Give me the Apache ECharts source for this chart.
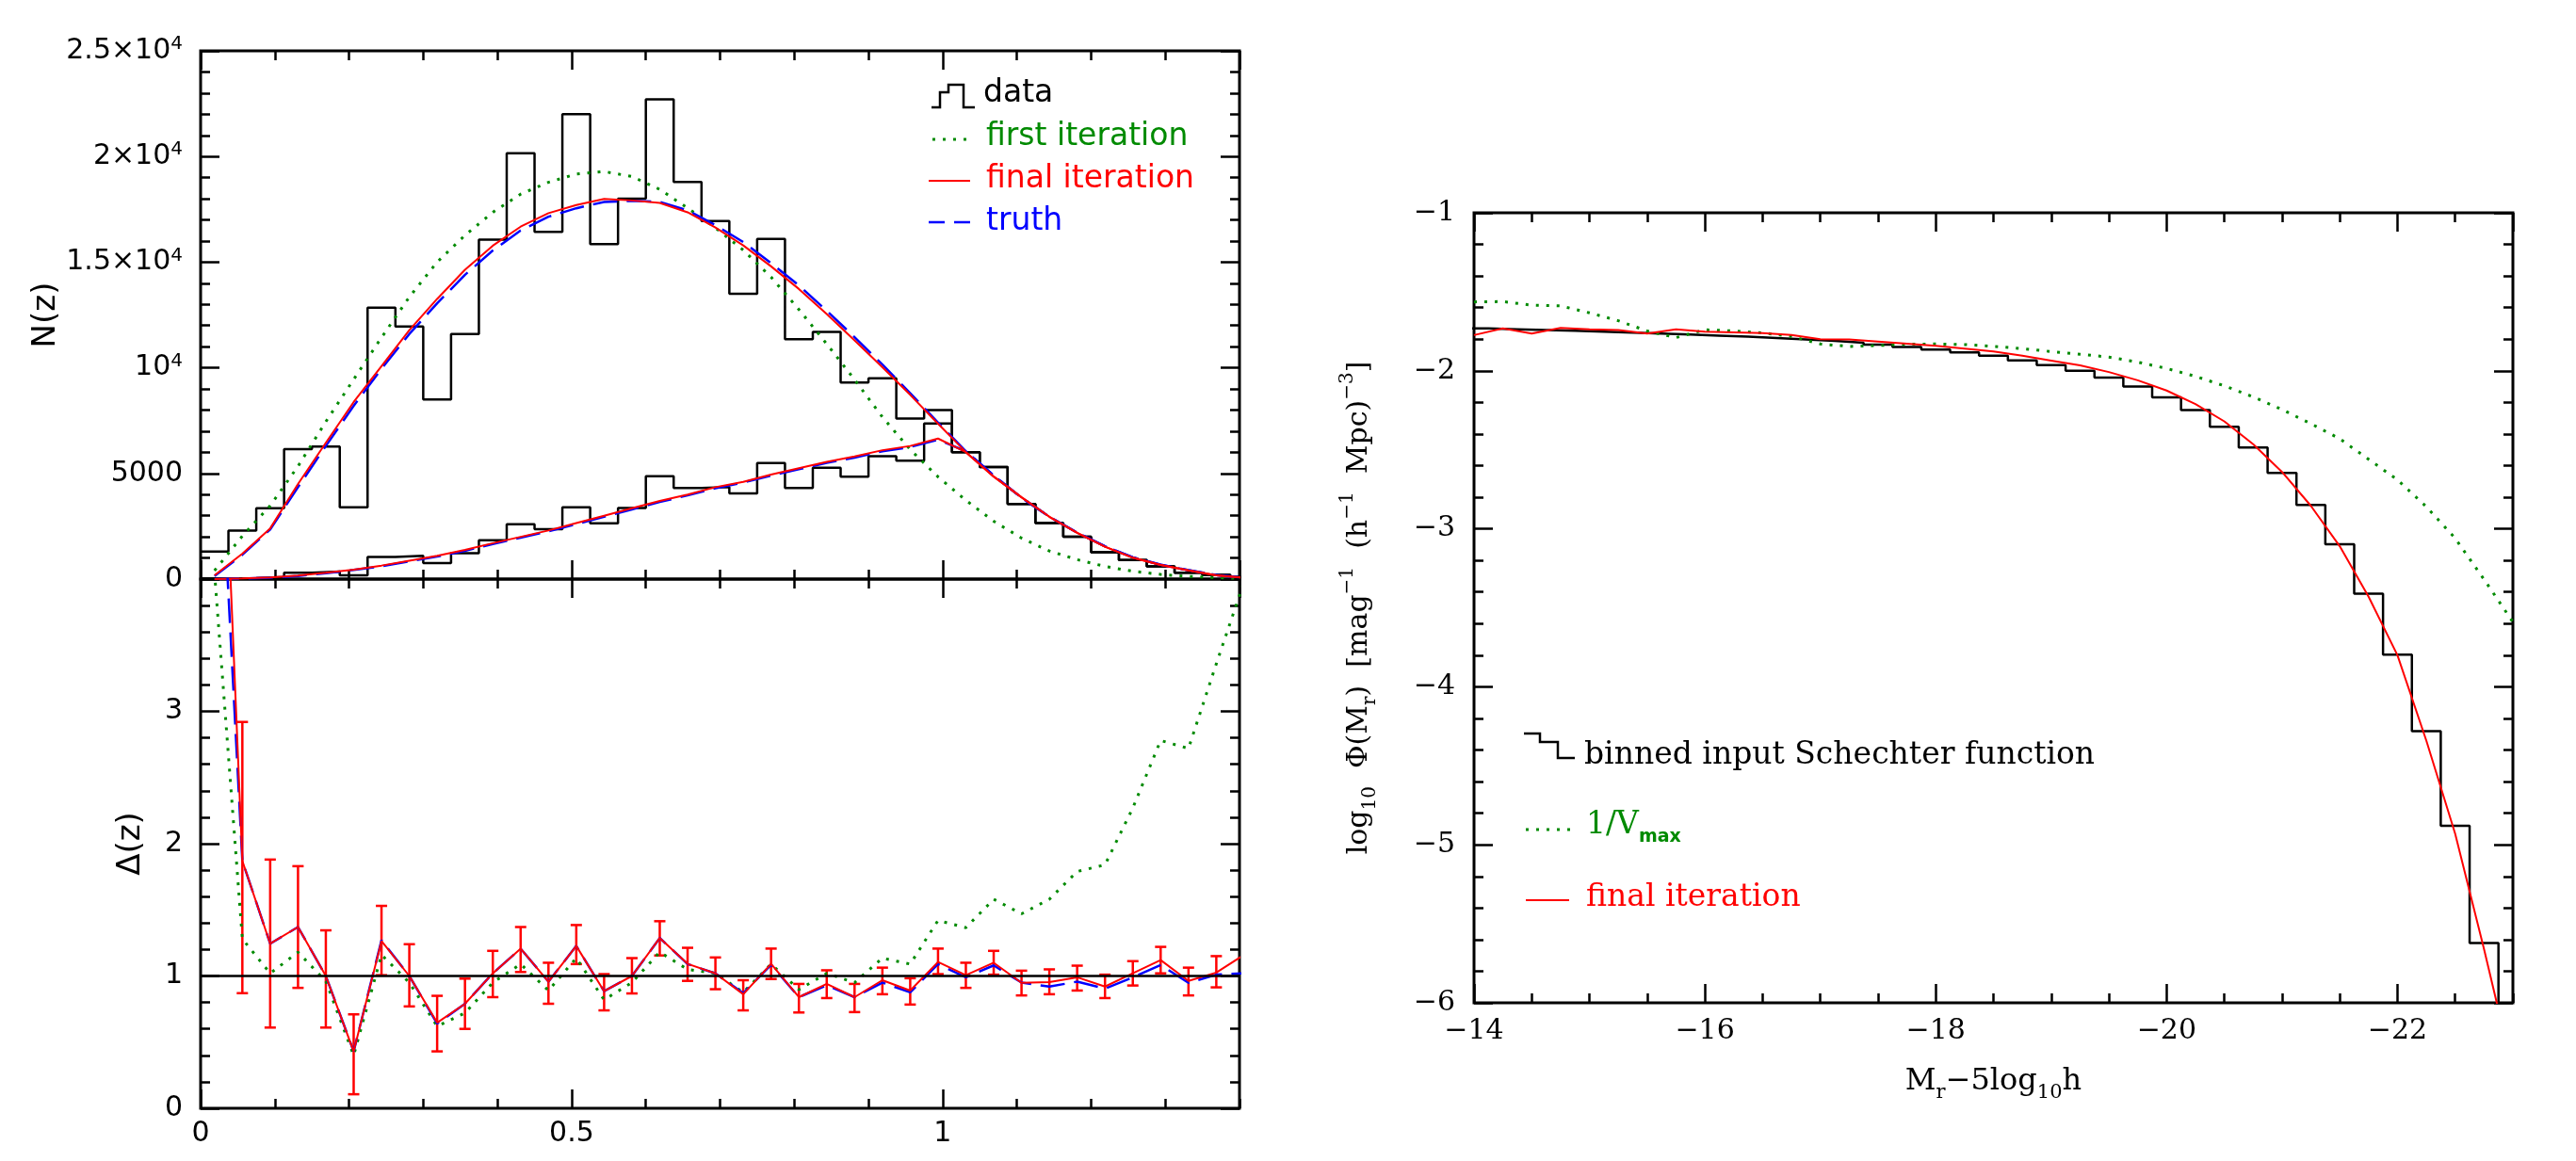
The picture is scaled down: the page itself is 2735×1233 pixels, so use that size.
<!DOCTYPE html>
<html><head><meta charset="utf-8">
<script src="https://cdn.jsdelivr.net/npm/echarts@6/dist/echarts.min.js"></script>
<style>html,body{margin:0;padding:0;background:#fff}#c{width:2735px;height:1233px}</style>
</head><body><div id="c"></div>
<script>
// ---------------- DATA: left panel (redshift) ----------------
const zBinEdges = [0, 0.0375, 0.075, 0.1125, 0.15, 0.1875, 0.225, 0.2625, 0.3, 0.3375, 0.375, 0.4125, 0.45, 0.4875, 0.525, 0.5625, 0.6, 0.6375, 0.675, 0.7125, 0.75, 0.7875, 0.825, 0.8625, 0.9, 0.9375, 0.975, 1.0125, 1.05, 1.0875, 1.125, 1.1625, 1.2, 1.2375, 1.275, 1.3125, 1.35, 1.3875, 1.425];
const zBinCenters = [0.01875, 0.05625, 0.09375, 0.13125, 0.16875, 0.20625, 0.24375, 0.28125, 0.31875, 0.35625, 0.39375, 0.43125, 0.46875, 0.50625, 0.54375, 0.58125, 0.61875, 0.65625, 0.69375, 0.73125, 0.76875, 0.80625, 0.84375, 0.88125, 0.91875, 0.95625, 0.99375, 1.03125, 1.06875, 1.10625, 1.14375, 1.18125, 1.21875, 1.25625, 1.29375, 1.33125, 1.36875, 1.40625];

const nzDataAll = [1300, 2300, 3350, 6150, 6270, 3400, 12850, 11950, 8500, 11600, 16070, 20150, 16430, 22000, 15850, 18000, 22700, 18800, 16950, 13500, 16100, 11350, 11700, 9300, 9500, 7600, 8000, 6000, 5300, 3550, 2650, 2000, 1270, 900, 600, 300, 200, 100];
const nzDataSub = [30, 50, 100, 300, 360, 180, 1050, 1100, 760, 1220, 1840, 2600, 2360, 3400, 2640, 3360, 4870, 4310, 4360, 4050, 5490, 4310, 5270, 4850, 5820, 5600, 7360, 6000, 5300, 3550, 2650, 2000, 1270, 900, 600, 300, 200, 100];

const nzFirstAll = [400, 2040, 3470, 5340, 7450, 9450, 11430, 13350, 15000, 16270, 17360, 18220, 18780, 19170, 19290, 19050, 18440, 17560, 16620, 15570, 14290, 12760, 11130, 9440, 7670, 6130, 4840, 3730, 2740, 1940, 1330, 920, 600, 370, 220, 130, 70, 30];
const nzFinalAll = [180, 1200, 2400, 4500, 6450, 8380, 10080, 11780, 13260, 14640, 15780, 16680, 17320, 17700, 17990, 17920, 17800, 17360, 16640, 15790, 14800, 13730, 12540, 11300, 10030, 8720, 7350, 6010, 4850, 3870, 2950, 2190, 1530, 1010, 670, 410, 180, 60];
const nzTruthAll = [150, 1150, 2350, 4350, 6300, 8200, 9950, 11600, 13050, 14400, 15550, 16500, 17150, 17550, 17850, 17900, 17850, 17450, 16750, 15950, 14950, 13900, 12700, 11450, 10150, 8800, 7400, 6050, 4900, 3850, 2950, 2200, 1550, 1030, 680, 420, 190, 60];
const nzFinalSub = [0, 30, 80, 170, 300, 450, 640, 870, 1100, 1380, 1700, 2000, 2300, 2650, 3000, 3350, 3700, 4000, 4350, 4600, 4950, 5250, 5550, 5800, 6100, 6300, 6650, 6010, 4850, 3870, 2950, 2190, 1530, 1010, 670, 410, 180, 60];
const nzTruthSub = [0, 20, 70, 150, 280, 430, 610, 840, 1070, 1340, 1660, 1960, 2260, 2600, 2950, 3300, 3650, 3960, 4300, 4570, 4900, 5200, 5500, 5750, 6050, 6250, 6600, 6050, 4900, 3850, 2950, 2200, 1550, 1030, 680, 420, 190, 60];

const deltaFinal = [6.9, 1.87, 1.244, 1.37, 1.0, 0.43, 1.264, 1.0, 0.647, 0.79, 1.02, 1.207, 0.957, 1.227, 0.885, 1.0, 1.287, 1.092, 1.02, 0.862, 1.092, 0.84, 0.94, 0.84, 0.968, 0.89, 1.106, 1.006, 1.10, 0.948, 0.954, 0.99, 0.92, 1.02, 1.12, 0.963, 1.026, 1.16];
const deltaTruth = [5.9, 1.87, 1.244, 1.37, 1.0, 0.43, 1.27, 1.0, 0.64, 0.79, 1.02, 1.207, 0.957, 1.227, 0.885, 1.0, 1.287, 1.09, 1.02, 0.87, 1.085, 0.84, 0.93, 0.84, 0.95, 0.876, 1.09, 0.99, 1.08, 0.95, 0.92, 0.957, 0.905, 0.99, 1.083, 0.948, 1.01, 1.02];
const deltaFirst = [4.05, 1.28, 1.02, 1.18, 0.96, 0.40, 1.16, 0.95, 0.62, 0.72, 0.95, 1.09, 0.89, 1.135, 0.82, 0.95, 1.18, 1.05, 1.02, 0.876, 1.09, 0.897, 1.02, 0.95, 1.135, 1.09, 1.42, 1.365, 1.58, 1.47, 1.58, 1.79, 1.84, 2.27, 2.78, 2.72, 3.36, 3.98];
const deltaErrHi = [null, 2.92, 1.88, 1.83, 1.345, 0.71, 1.53, 1.24, 0.85, 0.98, 1.19, 1.37, 1.10, 1.385, 1.014, 1.135, 1.414, 1.213, 1.14, 0.968, 1.207, 0.94, 1.043, 0.94, 1.063, 0.983, 1.207, 1.10, 1.19, 1.04, 1.05, 1.078, 1.01, 1.112, 1.22, 1.063, 1.15, null];
const deltaErrLo = [null, 0.87, 0.61, 0.91, 0.61, 0.106, 1.006, 0.77, 0.43, 0.60, 0.84, 1.03, 0.79, 1.09, 0.74, 0.868, 1.155, 0.963, 0.90, 0.74, 0.977, 0.724, 0.833, 0.727, 0.862, 0.784, 1.014, 0.91, 1.01, 0.853, 0.862, 0.89, 0.833, 0.928, 1.02, 0.853, 0.914, null];

const nzTickLabels = ['0', '5000', '10{sup|4}', '1.5×10{sup|4}', '2×10{sup|4}', '2.5×10{sup|4}'];

// ---------------- DATA: right panel (luminosity function) ----------------
const magBinEdges = [-13.875, -14.125, -14.375, -14.625, -14.875, -15.125, -15.375, -15.625, -15.875, -16.125, -16.375, -16.625, -16.875, -17.125, -17.375, -17.625, -17.875, -18.125, -18.375, -18.625, -18.875, -19.125, -19.375, -19.625, -19.875, -20.125, -20.375, -20.625, -20.875, -21.125, -21.375, -21.625, -21.875, -22.125, -22.375, -22.625, -22.875, -23.125];
const magBinCenters = [-14, -14.25, -14.5, -14.75, -15, -15.25, -15.5, -15.75, -16, -16.25, -16.5, -16.75, -17, -17.25, -17.5, -17.75, -18, -18.25, -18.5, -18.75, -19, -19.25, -19.5, -19.75, -20, -20.25, -20.5, -20.75, -21, -21.25, -21.5, -21.75, -22, -22.25, -22.5, -22.75, -23];
const phiBinned = [-1.732, -1.737, -1.742, -1.747, -1.752, -1.758, -1.764, -1.770, -1.777, -1.784, -1.792, -1.801, -1.811, -1.822, -1.835, -1.849, -1.865, -1.883, -1.904, -1.934, -1.964, -2.000, -2.043, -2.100, -2.168, -2.249, -2.355, -2.485, -2.647, -2.849, -3.098, -3.411, -3.796, -4.280, -4.879, -5.622, -6.4];
const phiFinal = [-1.774, -1.732, -1.764, -1.728, -1.737, -1.742, -1.764, -1.738, -1.752, -1.757, -1.762, -1.773, -1.800, -1.802, -1.815, -1.828, -1.842, -1.860, -1.878, -1.905, -1.935, -1.966, -2.008, -2.060, -2.125, -2.210, -2.320, -2.465, -2.640, -2.855, -3.110, -3.430, -3.800, -4.340, -4.930, -5.660, -6.430];
const phiVmax = [-1.564, -1.562, -1.585, -1.589, -1.633, -1.683, -1.748, -1.790, -1.740, -1.748, -1.760, -1.782, -1.830, -1.846, -1.840, -1.832, -1.830, -1.834, -1.845, -1.860, -1.878, -1.895, -1.913, -1.945, -1.985, -2.035, -2.095, -2.165, -2.245, -2.335, -2.430, -2.560, -2.690, -2.860, -3.060, -3.320, -3.590];

// ---------------- CHART ----------------
const SANS = 'DejaVu Sans', SERIF = 'DejaVu Serif';
const GREEN = '#008a00', RED = '#ff0000', BLUE = '#0000ff';
const chart = echarts.init(document.getElementById('c'), null, {renderer: 'canvas', width: 2735, height: 1233});

const ident = v => v;
const negate = v => -v;   // magnitudes are plotted on a positive axis, labelled with a minus sign
const histPts = (edges, vals, tx) => edges.map((e, i) => [tx(e), vals[Math.min(i, vals.length - 1)]]);
const curvePts = (xs, ys, tx) => xs.map((x, i) => [tx(x), ys[i]]);

function axis(gridIndex, position, min, max, interval, len, label, extra) {
  return Object.assign({
    type: 'value', gridIndex, position, min, max, interval,
    axisLine: {show: false, onZero: false},
    axisTick: {show: true, inside: true, length: len, lineStyle: {color: '#000', width: 2.5}},
    axisLabel: label || {show: false},
    splitLine: {show: false}
  }, extra || {});
}

const sansLbl = {show: true, fontFamily: SANS, fontSize: 30, color: '#000'};
const serifLbl = {show: true, fontFamily: SERIF, fontSize: 30, color: '#000'};

const xAxes = [
  axis(0, 'bottom', 0, 1.4, 0.5, 20),
  axis(0, 'bottom', 0, 1.4, 0.1, 10),
  axis(0, 'top', 0, 1.4, 0.5, 20),
  axis(0, 'top', 0, 1.4, 0.1, 10),
  axis(1, 'bottom', 0, 1.4, 0.5, 20, Object.assign({}, sansLbl, {margin: 12, showMaxLabel: false})),
  axis(1, 'bottom', 0, 1.4, 0.1, 10),
  axis(1, 'top', 0, 1.4, 0.5, 20),
  axis(1, 'top', 0, 1.4, 0.1, 10),
  axis(2, 'bottom', 14, 23, 2, 20, Object.assign({}, serifLbl, {margin: 15, showMaxLabel: false, formatter: v => '\u2212' + v}), {
    name: '{n|M}{s|r}{n|\u22125log}{s|10}{n|h}', nameLocation: 'middle', nameGap: 62,
    nameTextStyle: {fontFamily: SERIF, color: '#000', rich: {
      n: {fontFamily: SERIF, fontSize: 32, lineHeight: 44, color: '#000'},
      s: {fontFamily: SERIF, fontSize: 21, lineHeight: 21, verticalAlign: 'bottom', color: '#000'}}}
  }),
  axis(2, 'bottom', 14, 23, 0.5, 10),
  axis(2, 'top', 14, 23, 2, 20),
  axis(2, 'top', 14, 23, 0.5, 10)
];

const yAxes = [
  axis(0, 'left', 0, 25000, 5000, 20, Object.assign({}, sansLbl, {margin: 19, lineHeight: 34,
      formatter: v => nzTickLabels[Math.round(v / 5000)],
      rich: {sup: {fontFamily: SANS, fontSize: 20, lineHeight: 20, verticalAlign: 'top', color: '#000'}}}), {
    name: 'N(z)', nameLocation: 'middle', nameRotate: 90, nameGap: 124,
    nameTextStyle: {fontFamily: SANS, fontSize: 34, color: '#000'}
  }),
  axis(0, 'left', 0, 25000, 1000, 10),
  axis(0, 'right', 0, 25000, 5000, 20),
  axis(0, 'right', 0, 25000, 1000, 10),
  axis(1, 'left', 0, 4, 1, 20, Object.assign({}, sansLbl, {margin: 19, showMaxLabel: false}), {
    name: '\u0394(z)', nameLocation: 'middle', nameRotate: 90, nameGap: 57,
    nameTextStyle: {fontFamily: SANS, fontSize: 34, color: '#000'}
  }),
  axis(1, 'left', 0, 4, 0.2, 10),
  axis(1, 'right', 0, 4, 1, 20),
  axis(1, 'right', 0, 4, 0.2, 10),
  axis(2, 'left', -6, -1, 1, 20, Object.assign({}, serifLbl, {margin: 20, formatter: v => (v < 0 ? '\u2212' + (-v) : '' + v)}), {
    name: '{n|log}{s|10}{n|  \u03A6(M}{s|r}{n|)  [mag}{p|\u22121}{n|  (h}{p|\u22121}{n|  Mpc)}{p|\u22123}{n|]}',
    nameLocation: 'middle', nameRotate: 90, nameGap: 100,
    nameTextStyle: {fontFamily: SERIF, color: '#000', rich: {
      n: {fontFamily: SERIF, fontSize: 30, lineHeight: 44, color: '#000'},
      s: {fontFamily: SERIF, fontSize: 20, lineHeight: 20, verticalAlign: 'bottom', color: '#000'},
      p: {fontFamily: SERIF, fontSize: 20, lineHeight: 24, verticalAlign: 'top', color: '#000'}}}
  }),
  axis(2, 'left', -6, -1, 0.2, 10),
  axis(2, 'right', -6, -1, 1, 20),
  axis(2, 'right', -6, -1, 0.2, 10)
];

const lineBase = {type: 'line', symbol: 'none', animation: false, clip: true};
const dotted = [3, 8], dashed = [26, 10];

const errData = zBinCenters.map((z, i) => [z, deltaErrLo[i], deltaErrHi[i]]).filter(d => d[1] != null);

const series = [
  // top-left: N(z)
  Object.assign({}, lineBase, {name: 'data', xAxisIndex: 0, yAxisIndex: 0, step: 'end', data: histPts(zBinEdges, nzDataAll, ident), lineStyle: {color: '#000', width: 2.5}}),
  Object.assign({}, lineBase, {name: 'data (sub)', xAxisIndex: 0, yAxisIndex: 0, step: 'end', data: histPts(zBinEdges, nzDataSub, ident), lineStyle: {color: '#000', width: 2.5}}),
  Object.assign({}, lineBase, {name: 'first iteration', xAxisIndex: 0, yAxisIndex: 0, data: curvePts(zBinCenters, nzFirstAll, ident), lineStyle: {color: GREEN, width: 3, type: dotted}}),
  Object.assign({}, lineBase, {name: 'truth', xAxisIndex: 0, yAxisIndex: 0, data: curvePts(zBinCenters, nzTruthAll, ident), lineStyle: {color: BLUE, width: 2.5, type: dashed}}),
  Object.assign({}, lineBase, {name: 'truth (sub)', xAxisIndex: 0, yAxisIndex: 0, data: curvePts(zBinCenters, nzTruthSub, ident), lineStyle: {color: BLUE, width: 2.5, type: dashed}}),
  Object.assign({}, lineBase, {name: 'final iteration', xAxisIndex: 0, yAxisIndex: 0, data: curvePts(zBinCenters, nzFinalAll, ident), lineStyle: {color: RED, width: 2}}),
  Object.assign({}, lineBase, {name: 'final iteration (sub)', xAxisIndex: 0, yAxisIndex: 0, data: curvePts(zBinCenters, nzFinalSub, ident), lineStyle: {color: RED, width: 2}}),
  // bottom-left: Delta(z)
  Object.assign({}, lineBase, {name: 'delta first', xAxisIndex: 4, yAxisIndex: 4, data: curvePts(zBinCenters, deltaFirst, ident), lineStyle: {color: GREEN, width: 3, type: dotted}}),
  Object.assign({}, lineBase, {name: 'delta truth', xAxisIndex: 4, yAxisIndex: 4, data: curvePts(zBinCenters, deltaTruth, ident), lineStyle: {color: BLUE, width: 2.5, type: dashed}}),
  Object.assign({}, lineBase, {name: 'delta final', xAxisIndex: 4, yAxisIndex: 4, data: curvePts(zBinCenters, deltaFinal, ident), lineStyle: {color: RED, width: 2},
    markLine: {silent: true, animation: false, symbol: ['none', 'none'], label: {show: false}, lineStyle: {color: '#000', width: 2.5, type: 'solid'}, data: [{yAxis: 1}]}}),
  {type: 'custom', name: 'delta errors', xAxisIndex: 4, yAxisIndex: 4, clip: true, animation: false, data: errData, encode: {x: 0, y: [1, 2]},
    renderItem: (params, api) => {
      const x = api.value(0);
      const pLo = api.coord([x, api.value(1)]), pHi = api.coord([x, api.value(2)]);
      const cap = 6, st = {stroke: RED, lineWidth: 2.5};
      return {type: 'group', children: [
        {type: 'line', shape: {x1: pLo[0], y1: pLo[1], x2: pHi[0], y2: pHi[1]}, style: st},
        {type: 'line', shape: {x1: pLo[0] - cap, y1: pLo[1], x2: pLo[0] + cap, y2: pLo[1]}, style: st},
        {type: 'line', shape: {x1: pHi[0] - cap, y1: pHi[1], x2: pHi[0] + cap, y2: pHi[1]}, style: st}
      ]};
    }},
  // right: luminosity function
  Object.assign({}, lineBase, {name: 'binned input Schechter function', xAxisIndex: 8, yAxisIndex: 8, step: 'end', data: histPts(magBinEdges, phiBinned, negate), lineStyle: {color: '#000', width: 2.5}}),
  Object.assign({}, lineBase, {name: '1/Vmax', xAxisIndex: 8, yAxisIndex: 8, data: curvePts(magBinCenters, phiVmax, negate), lineStyle: {color: GREEN, width: 3, type: dotted}}),
  Object.assign({}, lineBase, {name: 'final iteration (LF)', xAxisIndex: 8, yAxisIndex: 8, data: curvePts(magBinCenters, phiFinal, negate), lineStyle: {color: RED, width: 2}})
];

const txt = (x, y, text, fill, font, size, rich) => ({type: 'text', x, y, silent: true,
  style: {text, fill, fontFamily: font, fontSize: size, align: 'left', verticalAlign: 'middle', rich}});
const seg = (x1, y1, x2, y2, stroke, dash, w) => ({type: 'line', silent: true, shape: {x1, y1, x2, y2},
  style: {stroke, lineWidth: w || 2.5, lineDash: dash || null}});

const graphic = [
  // left legend
  {type: 'polyline', silent: true, shape: {points: [[989, 114], [998, 114], [998, 98], [1007, 98], [1007, 90], [1023, 90], [1023, 114], [1035, 114]]}, style: {stroke: '#000', fill: 'none', lineWidth: 2.5}},
  txt(1044, 99, 'data', '#000', SANS, 33),
  seg(990, 148, 1032, 148, GREEN, [3, 8], 3),
  txt(1047, 145, 'first iteration', GREEN, SANS, 33),
  seg(986, 192, 1030, 192, RED, null, 2),
  txt(1047, 190, 'final iteration', RED, SANS, 33),
  seg(986, 236, 1032, 236, BLUE, [17, 10], 2.5),
  txt(1047, 235, 'truth', BLUE, SANS, 33),
  // right legend
  {type: 'polyline', silent: true, shape: {points: [[1618, 779], [1635, 779], [1635, 788], [1654, 788], [1654, 805], [1672, 805]]}, style: {stroke: '#000', fill: 'none', lineWidth: 2.5}},
  txt(1682, 802, 'binned input Schechter function', '#000', SERIF, 33),
  seg(1620, 881, 1668, 881, GREEN, [3, 8], 3),
  txt(1684, 876, '{n|1/V}{s|max}', GREEN, SERIF, 33, {
    n: {fontFamily: SERIF, fontSize: 33, lineHeight: 46, fill: GREEN},
    s: {fontFamily: SANS, fontSize: 19, fontWeight: 'bold', lineHeight: 19, verticalAlign: 'bottom', fill: GREEN}}),
  seg(1620, 956, 1666, 956, RED, null, 2),
  txt(1684, 953, 'final iteration', RED, SERIF, 33)
];

const gridStyle = {show: true, borderColor: '#000', borderWidth: 3, backgroundColor: 'transparent', containLabel: false};
chart.setOption({
  backgroundColor: '#ffffff',
  animation: false,
  textStyle: {fontFamily: SANS},
  grid: [
    Object.assign({left: 213, top: 54, width: 1103, height: 561}, gridStyle),
    Object.assign({left: 213, top: 615, width: 1103, height: 562}, gridStyle),
    Object.assign({left: 1565, top: 226, width: 1103, height: 839}, gridStyle)
  ],
  xAxis: xAxes,
  yAxis: yAxes,
  series,
  graphic
});
</script>
</body></html>
